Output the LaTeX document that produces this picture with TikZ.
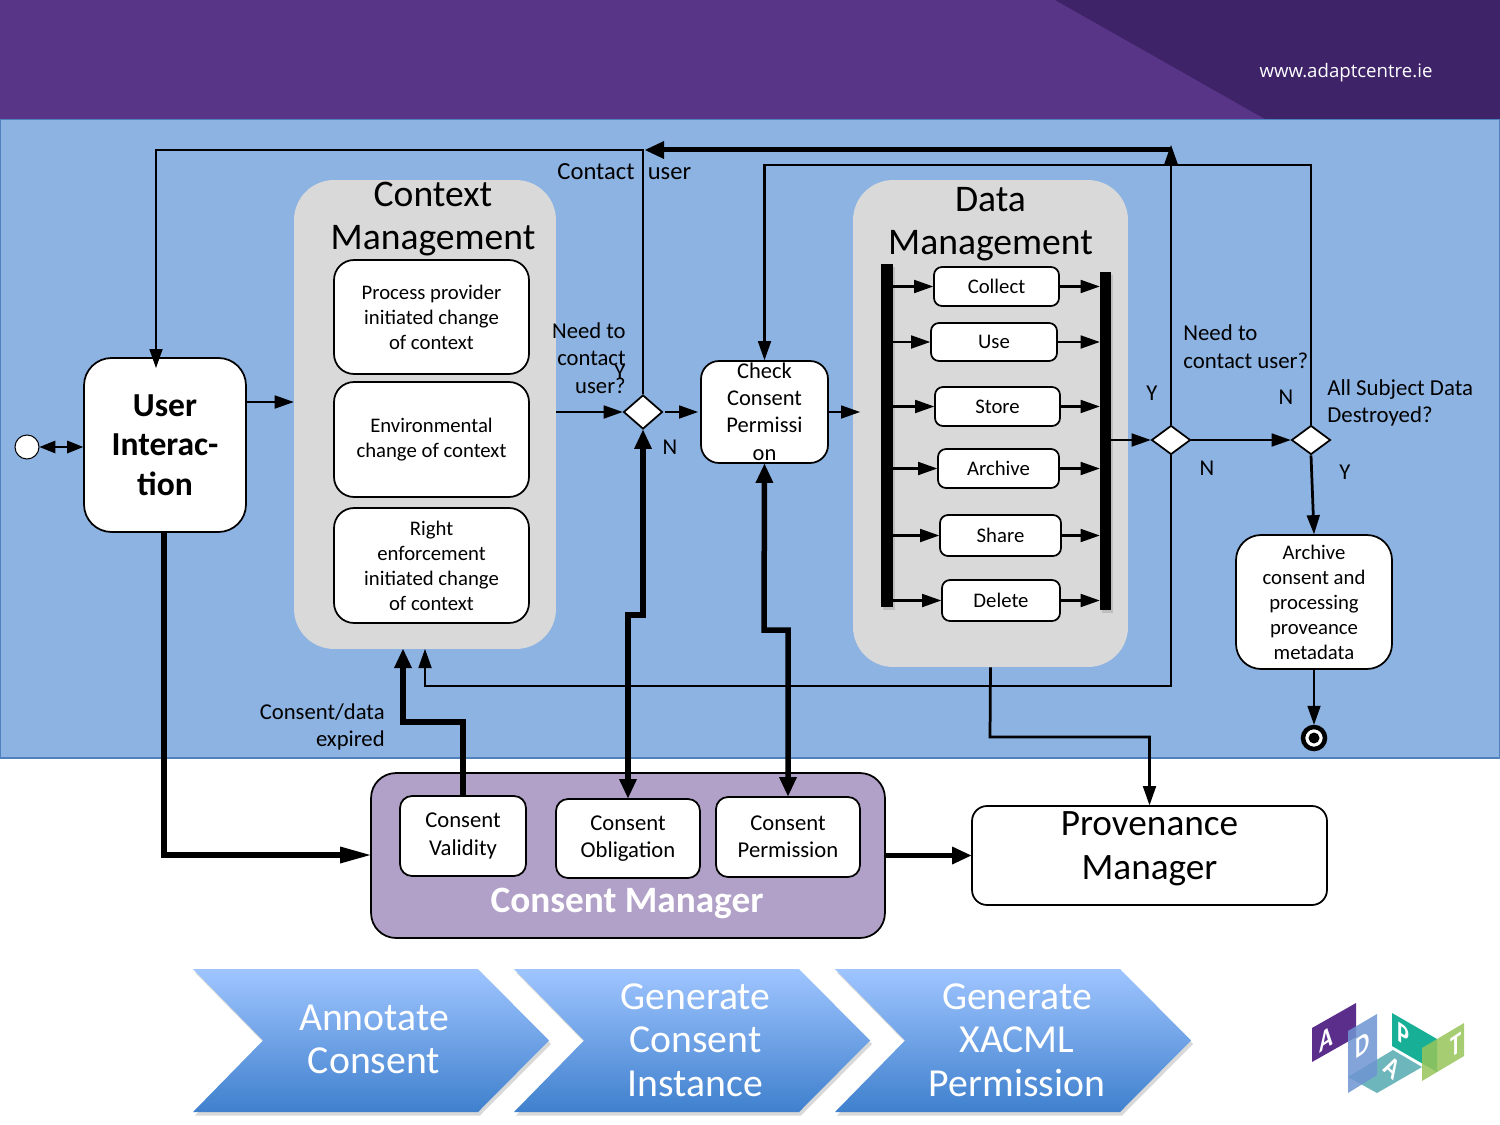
\documentclass[tikz,border=0pt]{standalone}
\usepackage{fontspec}
\setmainfont{Carlito}
\newfontfamily\urlfont{Open Sans}
\usetikzlibrary{arrows.meta,shapes.geometric,shadows}
\definecolor{headpurple}{HTML}{593588}
\definecolor{headdark}{HTML}{3E2369}
\definecolor{skyblue}{HTML}{8DB3E2}
\definecolor{skyedge}{HTML}{4F81BD}
\definecolor{panelgray}{HTML}{D9D9D9}
\definecolor{managerpurple}{HTML}{B1A0C7}
\definecolor{chevtop}{HTML}{9FC5FF}
\definecolor{chevbot}{HTML}{3F80CD}
\definecolor{logoA}{HTML}{5B2E8C}
\definecolor{logoD}{HTML}{6E95D2}
\definecolor{logoB}{HTML}{6DB6BB}
\definecolor{logoP}{HTML}{17B096}
\definecolor{logoT}{HTML}{98C55A}
\tikzset{
  panel/.style={fill=panelgray,rounded corners=0.8cm,inner sep=0pt},
  box/.style={draw=black,fill=white,line width=0.035cm,align=center,inner sep=0pt},
  bar/.style={fill=black,inner sep=0pt,drop shadow={shadow xshift=0.04cm,shadow yshift=-0.06cm,opacity=0.3}},
  choice/.style={draw=black,fill=white,diamond,aspect=1.15,line width=0.035cm,inner sep=0pt},
  bigtext/.style={font=\fontsize{21.4}{24.8}\selectfont,align=center,inner sep=0pt},
  boxtext/.style={font=\fontsize{11.8}{14.2}\selectfont},
  midtext/.style={font=\fontsize{12.9}{15.6}\selectfont,align=center,inner sep=0pt},
  lefttext/.style={font=\fontsize{13}{15.6}\selectfont,align=left,inner sep=0pt},
  righttext/.style={font=\fontsize{12.9}{15.6}\selectfont,align=right,inner sep=0pt},
  flow/.style={line width=0.055cm,-{Triangle[length=0.38cm,width=0.27cm,line width=0pt]}},
  heavy/.style={line width=0.11cm,-{Triangle[length=0.38cm,width=0.36cm,line width=0pt]}},
  heavyboth/.style={line width=0.11cm,{Triangle[length=0.38cm,width=0.36cm,line width=0pt]}-{Triangle[length=0.38cm,width=0.36cm,line width=0pt]}},
  chevron/.style={top color=chevtop,bottom color=chevbot,drop shadow={shadow xshift=0.04cm,shadow yshift=-0.07cm,opacity=0.3}},
  chevtext/.style={font=\fontsize{22.6}{24.7}\selectfont,text=white,align=center,inner sep=0pt},
  logotext/.style={font=\fontsize{17}{17}\bfseries\selectfont,text=white,inner sep=0pt,xscale=0.75,transform shape}
}
\begin{document}
\begin{tikzpicture}[x=0.02cm,y=-0.02cm]
	%%%%% BACKGROUND %%%%%
	\useasboundingbox (0, 0) rectangle (1500, 1125);
	\fill[white] (0, 0) rectangle (1500, 1125);
	\fill[headpurple] (0, 0) rectangle (1500, 119);
	\fill[headdark] (1055, 0) -- (1500, 0) -- (1500, 119) -- (1265, 119) -- cycle;
	\draw[fill=skyblue,draw=skyedge,line width=0.03cm] (0, 119.5) rectangle (1500, 758);
	\node[font=\fontsize{10.6}{12}\urlfont,text=white,inner sep=0pt] (website) at (1346, 73) {www.adaptcentre.ie};

	%%%%% PANELS %%%%%
	\node[panel,minimum width=5.24cm,minimum height=9.38cm] (context) at (425, 414.5) {};
	\node[panel,minimum width=5.5cm,minimum height=9.74cm] (data) at (990.5, 423.5) {};
	\node[bigtext] (contextTitle) at (433, 219) {Context\\Management};
	\node[bigtext] (dataTitle) at (990.5, 224) {Data\\Management};

	%%%%% CONTEXT BOXES %%%%%
	\node[box,boxtext,rounded corners=0.4cm,minimum width=3.9cm,minimum height=2.28cm] (provider) at (431.5, 317) {Process provider\\initiated change\\of context};
	\node[box,boxtext,rounded corners=0.4cm,minimum width=3.9cm,minimum height=2.3cm] (environment) at (431.5, 439.5) {Environmental\\change of context};
	\node[box,boxtext,rounded corners=0.4cm,minimum width=3.9cm,minimum height=2.3cm] (enforcement) at (431.5, 565.5) {Right\\enforcement\\initiated change\\of context};

	%%%%% USER SIDE %%%%%
	\node[draw=black,fill=white,circle,minimum size=0.48cm,inner sep=0pt,line width=0.02cm] (start) at (27, 447) {};
	\node[box,rounded corners=0.55cm,minimum width=3.24cm,minimum height=3.48cm,font=\fontsize{19.1}{22.4}\bfseries\selectfont] (user) at (165, 445) {User\\Interac-\\tion};

	%%%%% DECISIONS %%%%%
	\node[choice,minimum width=0.78cm,minimum height=0.68cm] (askOne) at (643, 412) {};
	\node[choice,minimum width=0.78cm,minimum height=0.58cm] (askTwo) at (1171, 440) {};
	\node[choice,minimum width=0.78cm,minimum height=0.58cm] (askThree) at (1311, 440) {};

	\node[box,rounded corners=0.36cm,minimum width=2.54cm,minimum height=2.04cm] (check) at (764.5, 412) {};
	\node[midtext,font=\fontsize{12.8}{15.6}\selectfont] (checkText) at (764.5, 411.5) {Check\\Consent\\Permissi\\on};

	%%%%% DATA BOXES %%%%%
	\node[bar,minimum width=0.24cm,minimum height=6.86cm] (barLeft) at (887, 435.5) {};
	\node[bar,minimum width=0.22cm,minimum height=6.76cm] (barRight) at (1105.5, 441) {};
	\node[box,boxtext,rounded corners=0.16cm,minimum width=2.5cm,minimum height=0.78cm] (collect) at (996.5, 286.5) {Collect};
	\node[box,boxtext,rounded corners=0.16cm,minimum width=2.52cm,minimum height=0.76cm] (use) at (994, 342) {Use};
	\node[box,boxtext,rounded corners=0.16cm,minimum width=2.5cm,minimum height=0.78cm] (store) at (997.5, 406.5) {Store};
	\node[box,boxtext,rounded corners=0.16cm,minimum width=2.42cm,minimum height=0.78cm] (archive) at (998.5, 468.5) {Archive};
	\node[box,boxtext,rounded corners=0.16cm,minimum width=2.42cm,minimum height=0.82cm] (share) at (1000.5, 535.5) {Share};
	\node[box,boxtext,rounded corners=0.16cm,minimum width=2.36cm,minimum height=0.82cm] (delete) at (1001, 600.5) {Delete};

	%%%%% END SIDE %%%%%
	\node[box,boxtext,rounded corners=0.5cm,minimum width=3.12cm,minimum height=2.68cm] (metadata) at (1314, 602) {Archive\\consent and\\processing\\proveance\\metadata};
	\node[draw=black,fill=white,circle,minimum size=0.44cm,inner sep=0pt,line width=0.09cm] (stop) at (1314, 738) {};
	\node[fill=black,circle,minimum size=0.22cm,inner sep=0pt] (stopDot) at (1314, 738) {};

	%%%%% CONSENT MANAGER %%%%%
	\node[draw=black,fill=managerpurple,rounded corners=0.5cm,line width=0.035cm,minimum width=10.28cm,minimum height=3.3cm,inner sep=0pt] (manager) at (628, 855.5) {};
	\node[box,midtext,rounded corners=0.24cm,minimum width=2.52cm,minimum height=1.6cm] (validity) at (463, 836) {Consent\\Validity};
	\node[box,midtext,rounded corners=0.24cm,minimum width=2.88cm,minimum height=1.58cm] (obligation) at (628, 838.5) {Consent\\Obligation};
	\node[box,midtext,rounded corners=0.24cm,minimum width=2.88cm,minimum height=1.6cm] (permission) at (788, 837) {Consent\\Permission};
	\node[font=\fontsize{21.2}{24}\bfseries\selectfont,text=white,inner sep=0pt] (managerTitle) at (627, 903) {Consent Manager};
	\node[box,rounded corners=0.3cm,minimum width=7.1cm,minimum height=1.98cm] (provenance) at (1149.5, 855.5) {};
	\node[midtext,font=\fontsize{21.2}{24.9}\selectfont] (provenanceText) at (1149.5, 849) {Provenance\\Manager};

	%%%%% THIN ARROWS %%%%%
	\draw[line width=0.05cm,{Triangle[length=0.32cm,width=0.26cm,line width=0pt]}-{Triangle[length=0.32cm,width=0.26cm,line width=0pt]}] (start) -- (user.west |- start);
	\coordinate (userOut) at (246, 402);
	\draw[flow] (userOut) -- (context.west |- userOut);
	\draw[flow] (context.east |- askOne) -- (askOne);
	\coordinate (checkIn) at (698, 412);
	\draw[flow] (askOne) ++(22, 0) -- (checkIn);
	\coordinate (contactCorner) at (156, 150);
	\coordinate (userTop) at (156, 368);
	\draw[flow] (askOne.north) |- (contactCorner) -- (userTop);
	\coordinate (recheckCorner) at (1311, 165);
	\draw[flow] (askThree.north) -- (recheckCorner) -| (check.north);
	\coordinate (dataIn) at (860, 412);
	\draw[flow] (check.east |- dataIn) -- (dataIn);
	\coordinate (jointTop) at (1171, 145);
	\draw[flow] (askTwo.north) -- (jointTop);
	\draw[flow] (barRight.east |- askTwo) -- (askTwo);
	\draw[flow] (askTwo) -- (askThree);
	\draw[flow] (askThree.south) -- (metadata.north);
	\draw[flow] (metadata.south) -- (stop.north);
	\coordinate (expiredCorner) at (1171, 686);
	\coordinate (expiredTip) at (425, 649);
	\draw[flow] (askTwo.south) -- (expiredCorner) -| (expiredTip);
	\coordinate (logCorner) at (990, 737);
	\draw[flow] (data.south) -- (logCorner) -| (provenance.north);

	%%%%% DATA ARROWS %%%%%
	\draw[flow] (barLeft.east |- collect) -- (collect);
	\draw[flow] (barLeft.east |- use) -- (use);
	\draw[flow] (barLeft.east |- store) -- (store);
	\draw[flow] (barLeft.east |- archive) -- (archive);
	\draw[flow] (barLeft.east |- share) -- (share);
	\draw[flow] (barLeft.east |- delete) -- (delete);
	\draw[flow] (collect) -- (barRight.west |- collect);
	\draw[flow] (use) -- (barRight.west |- use);
	\draw[flow] (store) -- (barRight.west |- store);
	\draw[flow] (archive) -- (barRight.west |- archive);
	\draw[flow] (share) -- (barRight.west |- share);
	\draw[flow] (delete) -- (barRight.west |- delete);

	%%%%% HEAVY ARROWS %%%%%
	\coordinate (contactTip) at (645, 150);
	\coordinate (contactStart) at (1171, 150);
	\draw[heavy,line width=0.1cm] (contactStart) -- (contactTip);
	\coordinate (userDown) at (164, 855);
	\draw[line width=0.11cm,-{Triangle[length=0.6cm,width=0.34cm,line width=0pt]}] (user.south -| userDown) -- (userDown) -- (manager.west |- userDown);
	\draw[heavy] (manager.east |- provenance) -- (provenance);
	\coordinate (validityKnee) at (463, 722);
	\coordinate (contextIn) at (403, 649);
	\draw[heavy] (validity.north) -- (validityKnee) -| (contextIn);
	\coordinate (obligationKneeA) at (628, 615);
	\coordinate (obligationKneeB) at (643, 615);
	\draw[heavyboth] (obligation.north) -- (obligationKneeA) -- (obligationKneeB) -- (askOne.south);
	\coordinate (permissionKneeA) at (788, 630);
	\coordinate (permissionKneeB) at (764, 630);
	\draw[heavyboth] (permission.north) -- (permissionKneeA) -- (permissionKneeB) -- (check.south);

	%%%%% LABELS %%%%%
	\node[midtext,font=\fontsize{14}{16}\selectfont,anchor=base] (contactLeft) at (596, 180) {Contact};
	\node[midtext,font=\fontsize{14}{16}\selectfont,anchor=base] (contactRight) at (669.5, 180) {user};
	\node[righttext,anchor=east] (askOneText) at (626, 358) {Need to\\contact\\user?};
	\node[midtext] (askOneYes) at (620, 372) {Y};
	\node[midtext] (askOneNo) at (670, 447) {N};
	\node[midtext] (askTwoYes) at (1152, 393) {Y};
	\node[lefttext,anchor=west] (askTwoText) at (1183, 346.5) {Need to\\contact user?};
	\node[midtext] (askThreeNo) at (1286, 397) {N};
	\node[lefttext,anchor=west] (askThreeText) at (1327, 403) {All Subject Data\\Destroyed?};
	\node[midtext] (askTwoNo) at (1207, 468) {N};
	\node[midtext] (askThreeYes) at (1345, 472) {Y};
	\node[righttext,anchor=east] (expiredText) at (385, 727) {Consent/data\\expired};

	%%%%% CHEVRONS %%%%%
	\shade[chevron] (193, 969) -- (478, 969) -- (549, 1040.5) -- (478, 1112) -- (193, 1112) -- (263, 1040.5) -- cycle;
	\shade[chevron] (514, 969) -- (799, 969) -- (870, 1040.5) -- (799, 1112) -- (514, 1112) -- (584, 1040.5) -- cycle;
	\shade[chevron] (835, 969) -- (1120, 969) -- (1191, 1040.5) -- (1120, 1112) -- (835, 1112) -- (905, 1040.5) -- cycle;
	\node[chevtext] (annotate) at (374, 1039.5) {Annotate\\Consent};
	\node[chevtext] (instance) at (695.5, 1040) {Generate\\Consent\\Instance};
	\node[chevtext] (xacml) at (1017, 1040) {Generate\\XACML\\Permission};

	%%%%% LOGO %%%%%
	\fill[logoA] (1312, 1028) -- (1356, 1003) -- (1356, 1037) -- (1312, 1062) -- cycle;
	\fill[logoB] (1393, 1050) -- (1422, 1067) -- (1377, 1093) -- (1348, 1077) -- cycle;
	\fill[logoD,fill opacity=0.85] (1348, 1031) -- (1377, 1014) -- (1377, 1075) -- (1348, 1093) -- cycle;
	\fill[logoP] (1392, 1013) -- (1437, 1039) -- (1437, 1072) -- (1392, 1046) -- cycle;
	\fill[logoT,fill opacity=0.85] (1422, 1048) -- (1464, 1023) -- (1464, 1056) -- (1422, 1081) -- cycle;
	\node[logotext,yslant=0.5] (logoLetterA) at (1326, 1039) {A};
	\node[logotext,yslant=0.5] (logoLetterD) at (1363, 1045) {D};
	\node[logotext,yslant=-0.5] (logoLetterP) at (1403, 1035) {P};
	\node[logotext,yslant=0.5] (logoLetterT) at (1456, 1045) {T};
	\node[logotext,rotate=-35] (logoLetterB) at (1392, 1068) {A};
\end{tikzpicture}
\end{document}
